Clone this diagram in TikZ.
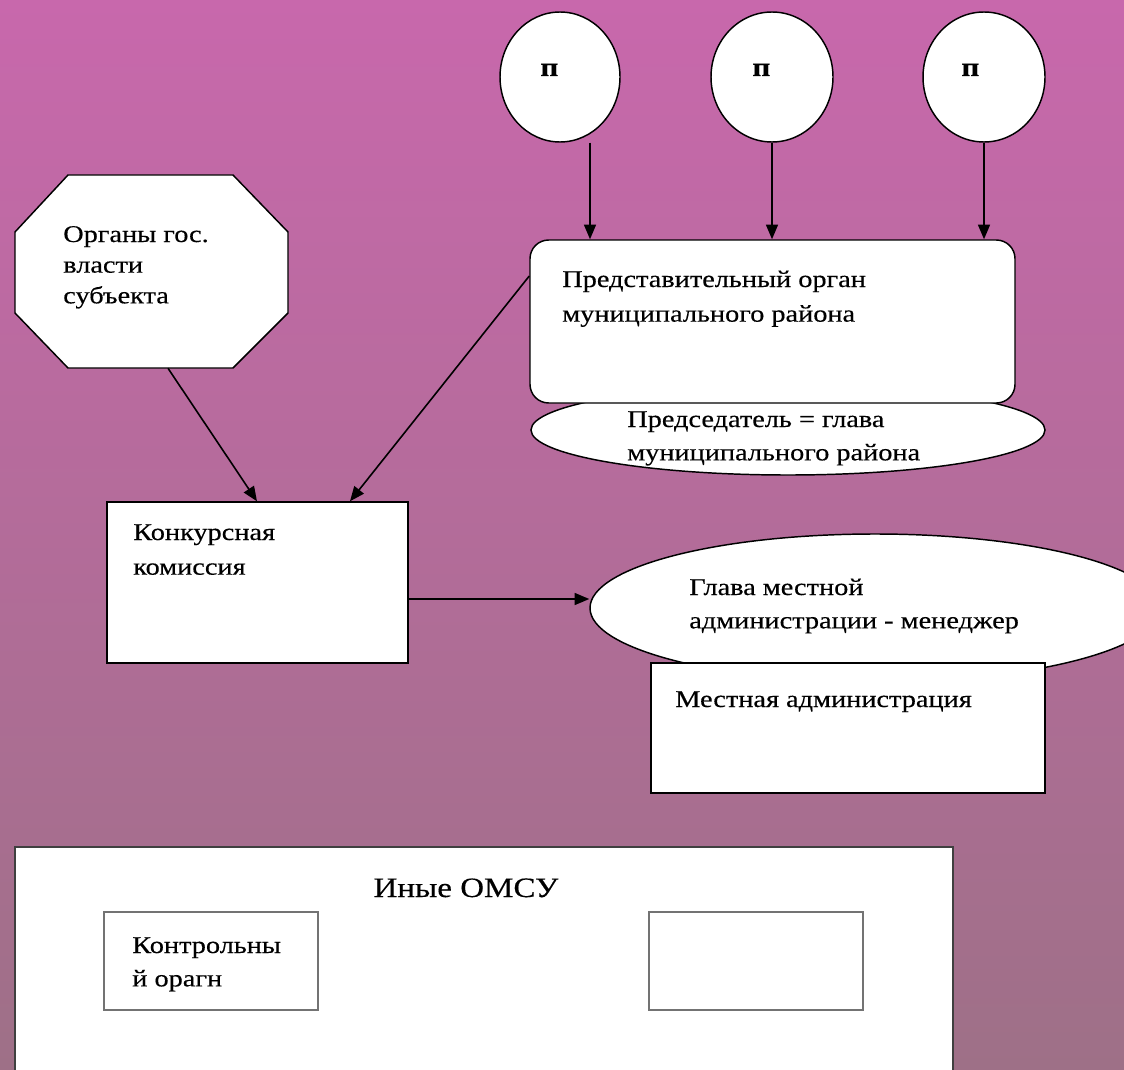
\documentclass[tikz,border=0pt]{standalone}
\usepackage{fontspec}
\setmainfont{Liberation Serif}[FakeStretch=1.18,FakeBold=0.4]
\usetikzlibrary{arrows.meta,shapes.geometric,fit}
\newcommand\mytab[1]{\begin{tabular}[t]{@{}l@{}}#1\end{tabular}}
\definecolor{bgtop}{RGB}{200,104,172}
\definecolor{bgbot}{RGB}{158,112,135}
\begin{document}
\begin{tikzpicture}[x=0.75pt,y=-0.75pt,
  box/.style={draw=black,fill=white,line width=1.1pt,inner sep=0pt},
  oval/.style={ellipse,draw=black,fill=white,line width=1.1pt,inner sep=0pt},
  smallbox/.style={draw=black!55,fill=white,line width=1.8pt,inner sep=0pt},
  txt/.style={anchor=base west,inner sep=0pt,font=\fontsize{18}{26}\selectfont},
  ptxt/.style={anchor=base west,inner sep=0pt,font=\fontsize{20}{22}\selectfont\bfseries},
  arr/.style={line width=1.2pt,-{Triangle[length=11pt,width=9pt]}},
]
\useasboundingbox (0,0) rectangle (1124,1070);
\clip (0,0) rectangle (1124,1070);
\fill[top color=bgtop,bottom color=bgbot] (0,0) rectangle (1124,1070);

% top circles
\node[oval,minimum width=90pt,minimum height=97.5pt] (c1) at (560,77) {};
\node[oval,minimum width=91.5pt,minimum height=97.5pt] (c2) at (772,77) {};
\node[oval,minimum width=91.5pt,minimum height=97.5pt] (c3) at (984,77) {};
\node[ptxt] (p1) at (540,76) {п};
\node[ptxt] (p2) at (752,76) {п};
\node[ptxt] (p3) at (961,76) {п};

% chairman ellipse behind representative body
\node[oval,minimum width=385.5pt,minimum height=67.5pt] (pred) at (788,430) {};
\node[box,rounded corners=14pt,fit={(530,240) (1015,403)}] (rep) {};
\node[txt] (reptxt) at (562,287) {\mytab{Представительный  орган\\муниципального района}};
\node[txt] (predtxt) at (627,427) {\fontsize{18}{25}\selectfont\mytab{Председатель = глава\\муниципального района}};

% octagon
\node[fit={(15,175) (288,368)},inner sep=0pt] (org) {};
\filldraw[fill=white,draw=black,line width=1.1pt] (68,175) -- (233,175) -- (288,232) -- (288,313) -- (233,368) -- (68,368) -- (15,313) -- (15,232) -- cycle;
\node[txt] (orgtxt) at (63,242) {\fontsize{18}{23}\selectfont\mytab{Органы гос.\\власти\\субъекта}};

% competition commission
\node[box,fit={(107,502) (408,663)}] (konk) {};
\node[txt] (konktxt) at (133,540) {\mytab{Конкурсная\\комиссия}};

% head of administration + administration
\node[oval,minimum width=427.5pt,minimum height=111pt] (glava) at (875,608) {};
\node[box,fit={(651,663) (1045,793)}] (mest) {};
\node[txt] (glavatxt) at (689,595) {\fontsize{18}{25}\selectfont\mytab{Глава местной\\администрации - менеджер}};
\node[txt] (mesttxt) at (675,707) {Местная администрация};

% other bodies
\node[draw=black!75,fill=white,line width=1.1pt,inner sep=0pt,fit={(15,847) (953,1085)}] (omsu) {};
\node[anchor=base,inner sep=0pt,font=\fontsize{21}{26}\selectfont] (omsutxt) at (466,897) {Иные ОМСУ};
\node[smallbox,fit={(104,912) (318,1010)}] (kontr) {};
\node[txt] (kontrtxt) at (132,953) {\fontsize{18}{25}\selectfont\mytab{Контрольны\\й орагн}};
\node[smallbox,fit={(649,912) (863,1010)}] (empty) {};

% arrows
\coordinate (x1) at (590,0);
\coordinate (x2) at (772,0);
\coordinate (x3) at (984,0);
\coordinate (x4s) at (168,0);
\coordinate (x4e) at (257,0);
\coordinate (y5) at (0,276);
\coordinate (x5e) at (350,0);
\coordinate (y6) at (0,599);
\draw[arr] (c1.south -| x1) -- (rep.north -| x1);
\draw[arr] (c2.south -| x2) -- (rep.north -| x2);
\draw[arr] (c3.south -| x3) -- (rep.north -| x3);
\draw[arr] (org.south -| x4s) -- (konk.north -| x4e);
\draw[arr] (rep.west |- y5) -- (konk.north -| x5e);
\draw[arr] (konk.east |- y6) -- (glava.west |- y6);
\end{tikzpicture}
\end{document}
